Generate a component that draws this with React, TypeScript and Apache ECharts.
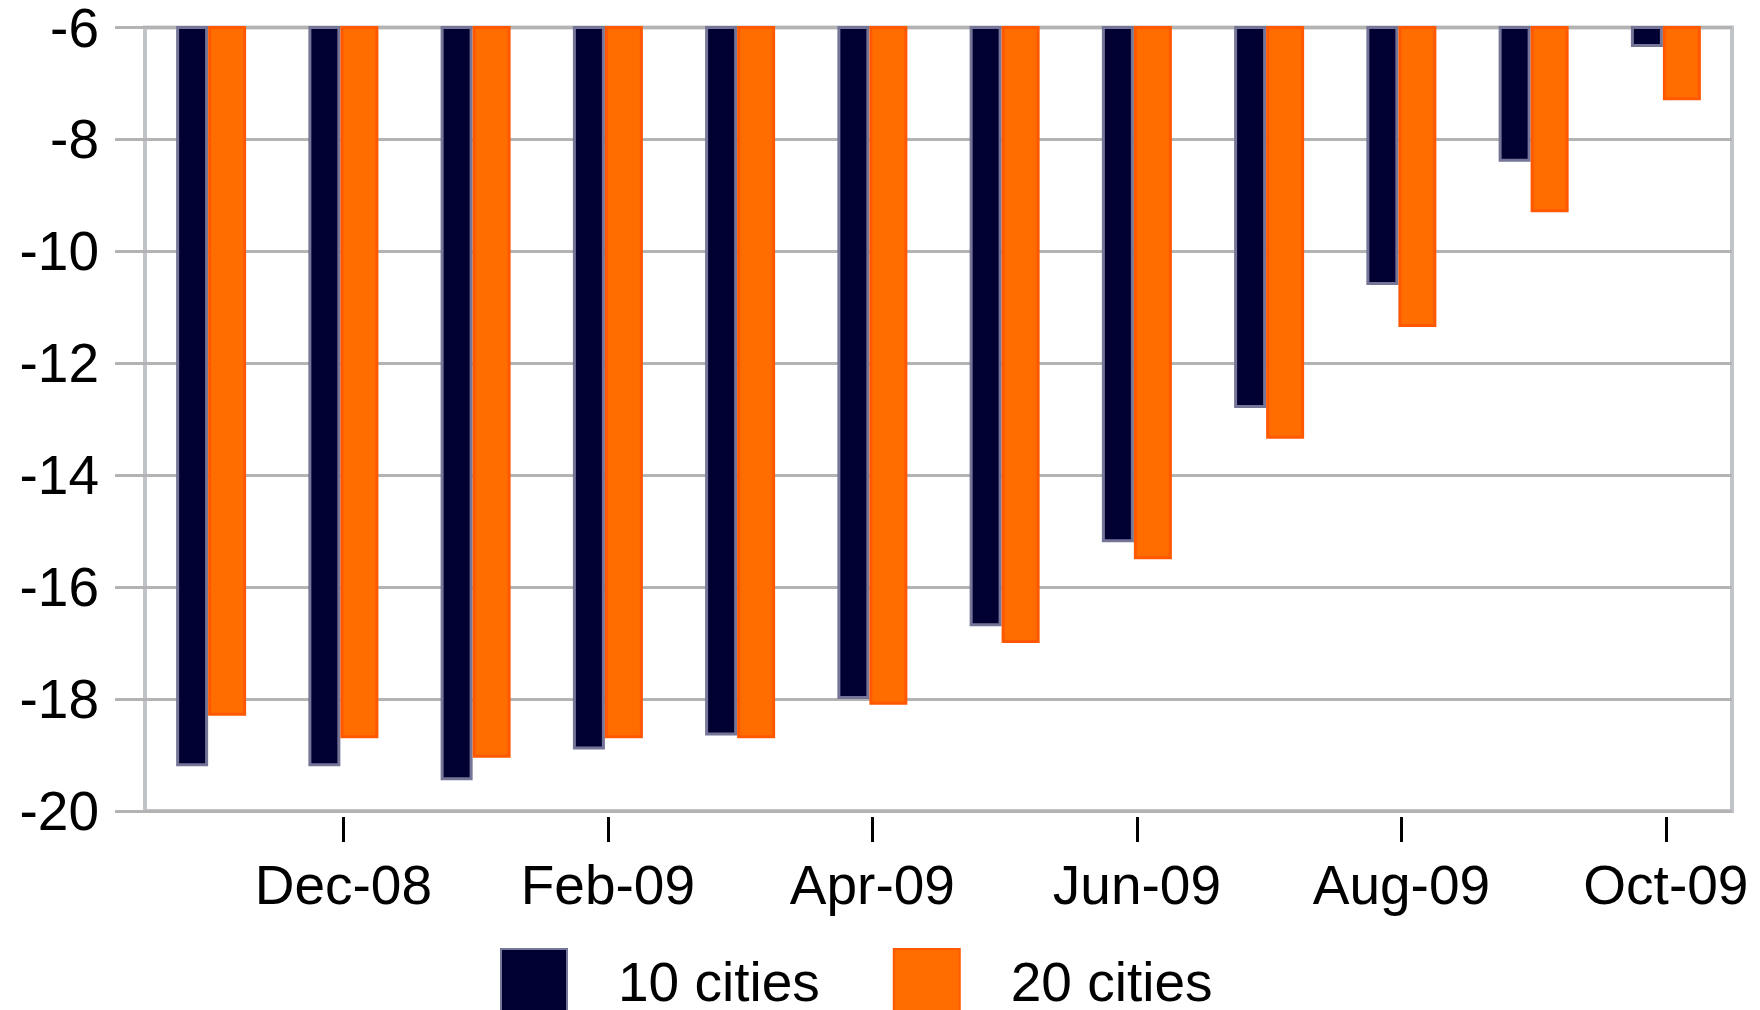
import React, { useEffect, useRef } from "react";
import * as echarts from "echarts";

const categories = [
  "Nov-08", "Dec-08", "Jan-09", "Feb-09", "Mar-09", "Apr-09",
  "May-09", "Jun-09", "Jul-09", "Aug-09", "Sep-09", "Oct-09",
];
const tenCities = [-19.2, -19.2, -19.45, -18.9, -18.65, -18.0, -16.7, -15.2, -12.8, -10.6, -8.4, -6.35];
const twentyCities = [-18.3, -18.7, -19.05, -18.7, -18.7, -18.1, -17.0, -15.5, -13.35, -11.35, -9.3, -7.3];
const yMin = -20;
const yMax = -6;
const yStep = 2;

const FONT = "Liberation Sans, Arial, sans-serif";
const showEveryOther = (i: number) => i % 2 === 1;

export default function App() {
  const ref = useRef<HTMLDivElement>(null);
  useEffect(() => {
    if (!ref.current) return;
    const chart = echarts.init(ref.current, null, { renderer: "svg" });
    chart.setOption({
      animation: false,
      backgroundColor: "#ffffff",
      textStyle: { fontFamily: FONT },
      grid: {
        left: 145,
        right: 28,
        top: 24,
        bottom: 199,
        show: true,
        borderColor: "#c0c4c8",
        borderWidth: 4,
        backgroundColor: "transparent",
      },
      legend: {
        left: 495,
        top: 943,
        icon: "rect",
        itemWidth: 66,
        itemHeight: 66,
        itemGap: 73,
        textStyle: {
          fontFamily: FONT,
          fontSize: 55,
          color: "#000",
          padding: [16, 0, 0, 46],
        },
        data: ["10 cities", "20 cities"],
      },
      xAxis: {
        type: "category",
        data: categories,
        offset: 6,
        axisLine: { show: false },
        axisTick: {
          show: true,
          alignWithLabel: true,
          interval: showEveryOther,
          length: 25,
          lineStyle: { color: "#000", width: 3 },
        },
        axisLabel: {
          interval: showEveryOther,
          margin: 40,
          fontSize: 55,
          fontFamily: FONT,
          color: "#000",
        },
        splitLine: { show: false },
      },
      yAxis: {
        type: "value",
        min: yMin,
        max: yMax,
        interval: yStep,
        axisLine: { show: false },
        axisTick: { show: true, length: 30, lineStyle: { color: "#b3b3b3", width: 3 } },
        axisLabel: {
          margin: 46,
          fontSize: 55,
          fontFamily: FONT,
          color: "#000",
        },
        splitLine: { show: true, lineStyle: { color: "#b3b3b3", width: 3 } },
      },
      series: [
        {
          name: "10 cities",
          type: "bar",
          data: tenCities,
          barWidth: 32,
          barGap: "0%",
          clip: true,
          itemStyle: { color: "#000033", borderColor: "#757597", borderWidth: 3 },
        },
        {
          name: "20 cities",
          type: "bar",
          data: twentyCities,
          barWidth: 38,
          barGap: "0%",
          clip: true,
          itemStyle: { color: "#ff6c00", borderColor: "#ff5800", borderWidth: 3 },
        },
      ],
    });
    return () => chart.dispose();
  }, []);
  return (
    <div
      ref={ref}
      style={{ position: "fixed", left: 0, top: 0, width: 1760, height: 1010, background: "#fff" }}
    />
  );
}
